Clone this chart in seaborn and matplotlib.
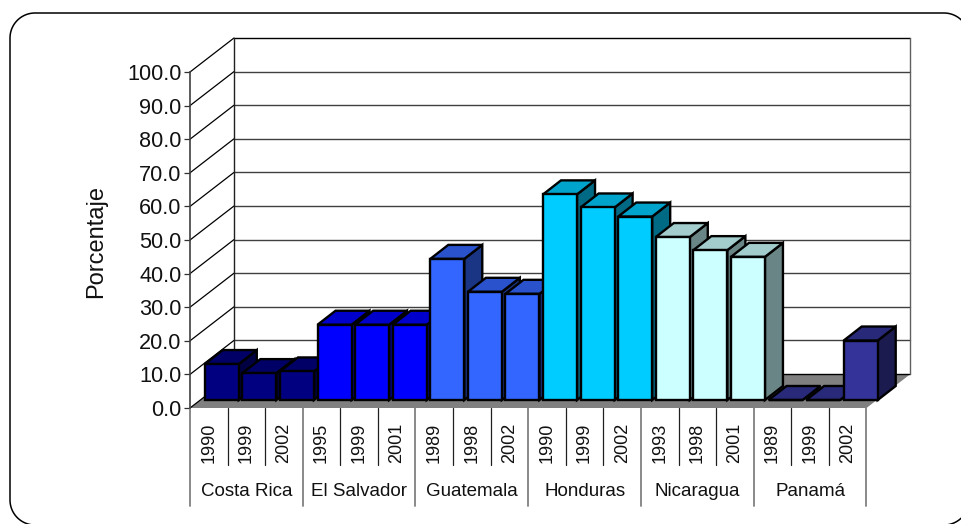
import numpy as np
import pandas as pd
import matplotlib
matplotlib.use("Agg")
import matplotlib.pyplot as plt
import seaborn as sns
from matplotlib.lines import Line2D
from matplotlib.patches import Polygon
from matplotlib.transforms import Affine2D, IdentityTransform

countries = ["Costa Rica", "El Salvador", "Guatemala", "Honduras", "Nicaragua", "Panamá"]
years = ["1990", "1999", "2002", "1995", "1999", "2001", "1989", "1998", "2002",
         "1990", "1999", "2002", "1993", "1998", "2001", "1989", "1999", "2002"]
percent = [10.7, 8.0, 8.5, 22.4, 22.4, 22.4, 42.0, 32.2, 31.6,
           61.2, 57.3, 54.6, 48.5, 44.6, 42.6, 0.0, 0.0, 17.7]
colors = ["#000080", "#0000FF", "#3366FF", "#00CCFF", "#CCFFFF", "#333399"]

per_country = 3
px_w, px_h = 962, 524
left, right, top, bottom = 190, 866.5, 72, 408

sns.set_theme(style="white")
plt.rcParams["font.family"] = ["Liberation Sans", "DejaVu Sans"]

df = pd.DataFrame({
    "pos": [str(i) for i in range(len(years))],
    "percent": percent,
    "country": np.repeat(countries, per_country),
})

fig = plt.figure(figsize=(px_w / 100, px_h / 100), dpi=100, facecolor="white")
ax = fig.add_axes([left / px_w, 1 - bottom / px_h, (right - left) / px_w, (bottom - top) / px_h])
ax.patch.set_visible(False)

sns.barplot(data=df, x="pos", y="percent", hue="country", order=df["pos"], hue_order=countries,
            palette=colors, dodge=False, width=34 / 37.6, saturation=1, edgecolor="black",
            linewidth=1.7, legend=False, ax=ax)
ax.set_xlim(-0.5, len(years) - 0.5)
ax.set_ylim(0, 100)

step = (right - left) / len(years)
unit = (bottom - top) / 100


def shift(x, y, dx_px, dy_px):
    return x + dx_px / step, y + dy_px / unit


# back wall, floor, grid
x0, x1 = ax.get_xlim()
floor = [(x0, 0), (x1, 0), shift(x1, 0, 44, 34), shift(x0, 0, 44, 34)]
ax.add_patch(Polygon(floor, closed=True, facecolor="#808080", edgecolor="none", zorder=1, clip_on=False))
for level in range(0, 101, 10):
    bx0, by = shift(x0, level, 44, 34)
    bx1, _ = shift(x1, level, 44, 34)
    ax.plot([bx0, bx1], [by, by], color="black" if level in (0, 100) else "#404040", lw=1,
            zorder=1.5, clip_on=False)
    ax.plot([x0, bx0], [level, by], color="black", lw=0.9, zorder=1.5, clip_on=False)
bx0, by0 = shift(x0, 0, 44, 34)
bx1, by1 = shift(x1, 100, 44, 34)
ax.plot([bx0, bx0], [by0, by1], color="#202020", lw=1, zorder=1.5, clip_on=False)
ax.plot([bx1, bx1], [by0, by1], color="#606060", lw=1, zorder=1.5, clip_on=False)

# bars sit inside the floor depth, each one with its own side and top faces
front = ax.transData + Affine2D().translate(13, 8)
depth_x, depth_y = 18, 14
for i, bar in enumerate(ax.patches[:len(years)]):
    bar.set_transform(front)
    bar.set_clip_on(False)
    bar.set_zorder(10 + i)
    a = bar.get_x()
    b = a + bar.get_width()
    h = bar.get_height()
    base = np.array(matplotlib.colors.to_rgb(colors[i // per_country]))
    top_face = [(a, h), shift(a, h, depth_x, depth_y), shift(b, h, depth_x, depth_y), (b, h)]
    side_face = [(b, 0), shift(b, 0, depth_x, depth_y), shift(b, h, depth_x, depth_y), (b, h)]
    for pts, factor in ((side_face, 0.52), (top_face, 0.8)):
        ax.add_patch(Polygon(pts, closed=True, facecolor=base * factor, edgecolor="black", lw=1.7,
                             joinstyle="miter", transform=front, zorder=10 + i - 0.5, clip_on=False))

# axes
for name in ("top", "right", "bottom"):
    ax.spines[name].set_visible(False)
ax.spines["left"].set_color("#404040")
ax.spines["left"].set_linewidth(1.2)
ax.spines["left"].set_zorder(2)
ax.set_yticks(np.arange(0, 101, 10))
ax.set_yticklabels([f"{v:.1f}" for v in np.arange(0, 101, 10)])
ax.tick_params(axis="y", left=True, length=4.5, width=0.9, color="#303030", pad=1.5, labelsize=15.6,
               labelcolor="#111111")
ax.set_xticks(range(len(years)))
ax.set_xticklabels(years, rotation=90, fontsize=13, color="#111111")
ax.tick_params(axis="x", bottom=False, pad=4.5)
ax.set_xlabel("")
ax.set_ylabel("")
fig.text(96 / px_w, 1 - 241 / px_h, "Porcentaje", rotation=90, ha="center", va="center",
         fontsize=17, color="#111111")

# two-level category table below the floor
for i in range(len(years) + 1):
    edge = i - 0.5
    if i % per_country == 0:
        ax.plot([edge, edge], [0, -29.3], color="#808080", lw=1.3, clip_on=False, zorder=2)
    else:
        ax.plot([edge, edge], [0, -17], color="#202020", lw=0.9, clip_on=False, zorder=2)
for k, country in enumerate(countries):
    ax.text(per_country * k + 1, -25, country, ha="center", va="center", fontsize=13.5,
            color="#111111", clip_on=False)

# rounded frame, its right and bottom edges run off the canvas
radius = 25
frame_x0, frame_x1, frame_y0, frame_y1 = 10, 969, px_h - 525, px_h - 13
corners = [(frame_x1 - radius, frame_y1 - radius, 0), (frame_x0 + radius, frame_y1 - radius, 90),
           (frame_x0 + radius, frame_y0 + radius, 180), (frame_x1 - radius, frame_y0 + radius, 270)]
frame_xs, frame_ys = [], []
for cx, cy, start in corners:
    angles = np.radians(np.linspace(start, start + 90, 20))
    frame_xs.extend(cx + radius * np.cos(angles))
    frame_ys.extend(cy + radius * np.sin(angles))
frame_xs.append(frame_xs[0])
frame_ys.append(frame_ys[0])
fig.add_artist(Line2D(frame_xs, frame_ys, transform=IdentityTransform(), color="black", lw=1.1))

fig.savefig("out.png", dpi=100)
